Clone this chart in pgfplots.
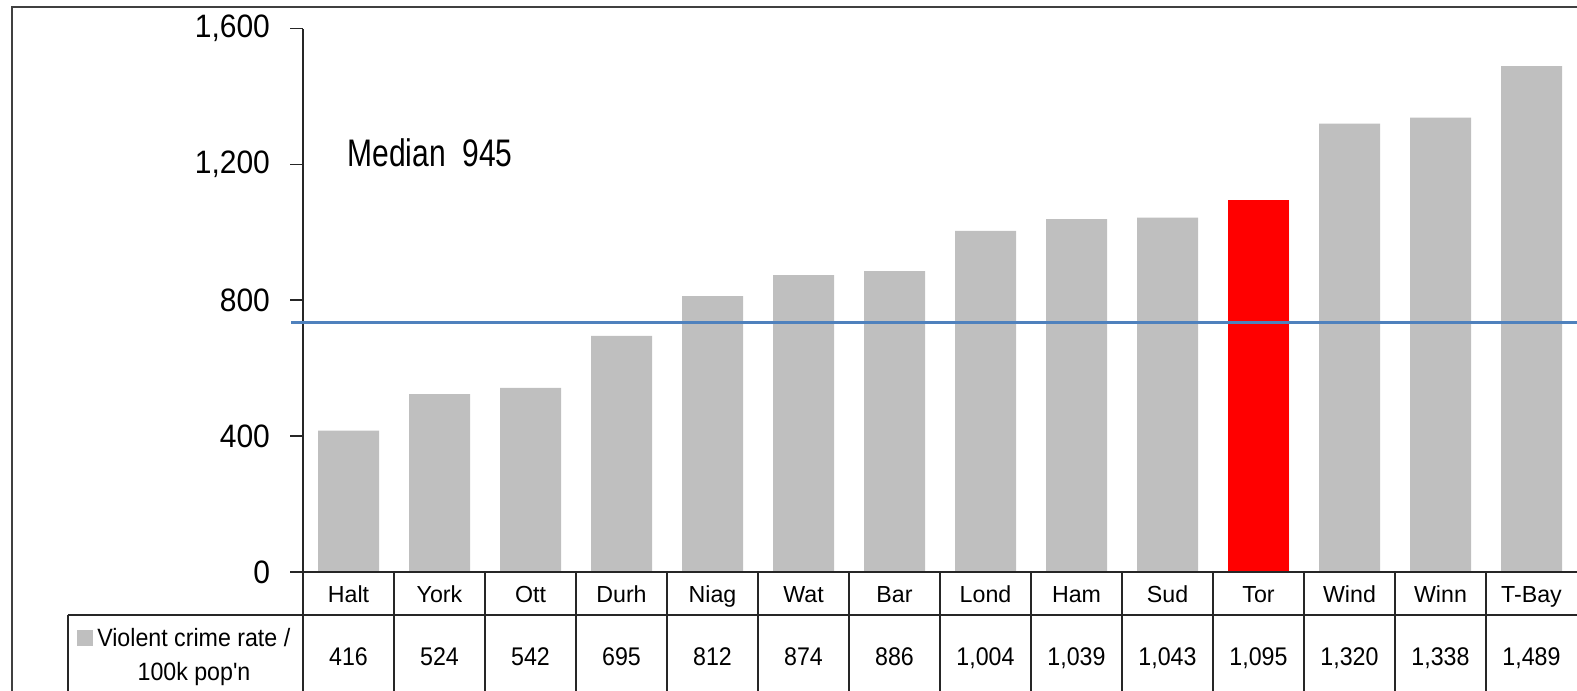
\documentclass[border=0pt]{standalone}
\usepackage{fontspec}
\setmainfont{Liberation Sans}
\usepackage{graphicx}
\usepackage{pgfplots}
\pgfplotsset{compat=1.18}
\usepackage{pgfplotstable}
\definecolor{barGray}{RGB}{191,191,191}
\definecolor{torRed}{RGB}{255,0,0}
\definecolor{medBlue}{RGB}{79,129,189}

\pgfplotstableread{
x name val
0 Halt 416
1 York 524
2 Ott 542
3 Durh 695
4 Niag 812
5 Wat 874
6 Bar 886
7 Lond 1004
8 Ham 1039
9 Sud 1043
10 Tor 1095
11 Wind 1320
12 Winn 1338
13 T-Bay 1489
}\crimedata

\begin{document}
\begin{tikzpicture}
% axis placed in a px grid (1px = 0.5pt, origin at top left, y down)
\begin{axis}[at={(151.5pt,-286pt)}, anchor=south west,
  scale only axis, width=637pt, height=271.75pt,
  xmin=-0.5, xmax=13.5, ymin=0, ymax=1600, clip=false,
  axis y line*=left, axis x line*=bottom,
  axis line style={-, black!85, line width=0.8pt},
  ytick={0,400,...,1600}, scaled y ticks=false,
  tick align=outside, major tick length=6.5pt,
  ytick style={black!85, line width=0.8pt},
  yticklabel={\scalebox{1}[1.08]{\pgfmathprintnumber{\tick}}},
  yticklabel style={font=\fontsize{15}{17}\selectfont, xshift=-6.5pt,
    /pgf/number format/1000 sep={,}, /pgf/number format/assume math mode=true},
  xtick={0,...,13}, xticklabels from table={\crimedata}{name},
  x tick style={draw=none},
  xticklabel style={anchor=base, yshift=-8.5pt, font=\fontsize{11.6}{14}\selectfont},
  every node near coord/.style={anchor=base, font=\fontsize{11.6}{14}\selectfont,
    /pgf/number format/1000 sep={,}, /pgf/number format/assume math mode=true,
    /pgf/number format/fixed, /pgf/number format/precision=0},
]
\addplot[ybar, bar width=30.5pt, bar shift=0pt, fill=barGray, draw=none] table[x=x, y=val] {\crimedata};
\addplot[ybar, bar width=30.5pt, bar shift=0pt, fill=torRed, draw=none] coordinates {(10,1095)};
\addplot[medBlue, line width=1.5pt] coordinates {(-0.63,734) (13.7,734)};
% value row of the data table
\addplot[draw=none, mark=none, point meta=explicit,
  nodes near coords={\scalebox{1}[1.1]{\pgfmathprintnumber{\pgfplotspointmeta}}}]
  table[x=x, y expr=-274, meta=val] {\crimedata};
\end{axis}
\begin{scope}[x=0.5pt, y=-0.5pt]
  \draw[line width=1.2pt, black!75] (12,695) -- (12,7) -- (1590,7);
  \begin{scope}[line width=0.8pt, black!85]
    \draw (303,572) -- (1590,572);
    \draw (67.7,615) -- (1590,615);
    \draw (67.7,615) -- (67.7,695);
    \foreach \bx in {0,...,13} \draw (303+91*\bx,572) -- ++(0,123);
  \end{scope}
  \begin{scope}[font=\fontsize{11.6}{16}\selectfont, inner sep=0pt]
    \node[anchor=base west] at (77,646)
      {\textcolor{barGray}{\rule{8pt}{8pt}}\,\scalebox{1}[1.08]{Violent crime rate /}};
    \node[anchor=base] at (194,680) {\scalebox{1}[1.08]{100k pop\textquotesingle n}};
  \end{scope}
  \node[anchor=west, inner sep=0pt, font=\fontsize{15}{17}\selectfont] at (347,153)
    {\scalebox{1}[1.28]{Median\ \ 945}};
  \pgfresetboundingbox
  \useasboundingbox (0,0) rectangle (1577,690);
\end{scope}
\end{tikzpicture}
\end{document}
